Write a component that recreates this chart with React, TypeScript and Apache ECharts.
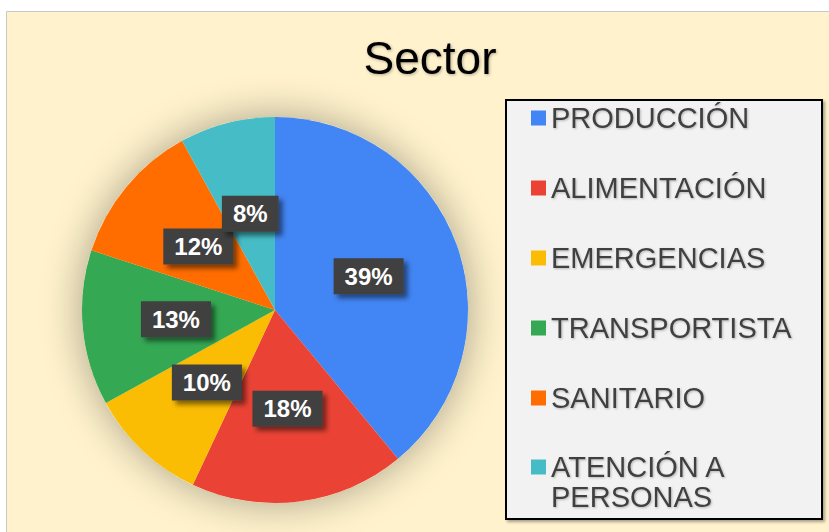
import React, { useEffect, useRef } from "react";
import * as echarts from "echarts";

const categories = ["PRODUCCIÓN", "ALIMENTACIÓN", "EMERGENCIAS", "TRANSPORTISTA", "SANITARIO", "ATENCIÓN A PERSONAS"];
const values = [39, 18, 10, 13, 12, 8];
const colors = ["#4285F4", "#EA4335", "#FBBC04", "#34A853", "#FF6D01", "#46BDC6"];

export default function App() {
  const ref = useRef<HTMLDivElement>(null);
  useEffect(() => {
    if (!ref.current) return;
    const chart = echarts.init(ref.current, null, { renderer: "svg" });
    const font = "Arial, 'Liberation Sans', sans-serif";
    const legendText = {
      fontFamily: font,
      fontSize: 29,
      lineHeight: 30,
      color: "#404040",
      textShadowColor: "rgba(0,0,0,0.25)",
      textShadowBlur: 2,
      textShadowOffsetX: 1,
      textShadowOffsetY: 1,
    };
    const total = values.reduce((a, b) => a + b, 0);
    chart.setOption({
      animation: false,
      title: {
        text: "Sector",
        left: 425,
        textAlign: "center",
        top: 30,
        textStyle: {
          fontFamily: font,
          fontSize: 46,
          fontWeight: "normal",
          color: "#000",
          textShadowColor: "rgba(0,0,0,0.3)",
          textShadowBlur: 3,
          textShadowOffsetX: 1,
          textShadowOffsetY: 1,
        },
      },
      graphic: [
        {
          type: "rect",
          z: -10,
          silent: true,
          shape: { x: 6.5, y: 11.5, width: 840, height: 540 },
          style: { fill: "#FFF2CC", stroke: "#C8C8C8", lineWidth: 1 },
        },
        {
          type: "rect",
          z: -5,
          silent: true,
          shape: { x: 506, y: 100, width: 316, height: 419 },
          style: {
            fill: "#F2F2F2",
            stroke: "#000",
            lineWidth: 2,
            shadowColor: "rgba(0,0,0,0.35)",
            shadowBlur: 3,
            shadowOffsetX: 2,
            shadowOffsetY: 2,
          },
        },
      ],
      legend: [
        {
          orient: "vertical",
          left: 531,
          top: 103,
          itemWidth: 15,
          itemHeight: 15,
          itemGap: 40,
          icon: "rect",
          padding: 0,
          data: categories.slice(0, 5),
          textStyle: legendText,
        },
        {
          orient: "vertical",
          left: 531,
          top: 422,
          itemWidth: 15,
          itemHeight: 15,
          icon: "rect",
          padding: 0,
          data: [categories[5]],
          formatter: () => " \nATENCIÓN A\nPERSONAS",
          textStyle: legendText,
        },
      ],
      series: [
        {
          type: "pie",
          z: 1,
          silent: true,
          center: [275, 310],
          radius: 193,
          label: { show: false },
          labelLine: { show: false },
          data: [{ value: total, itemStyle: { color: "#FFF2CC" } }],
          itemStyle: { shadowBlur: 40, shadowColor: "rgba(0,0,0,0.35)" },
          emphasis: { disabled: true },
          tooltip: { show: false },
        },
        {
          type: "pie",
          z: 2,
          center: [275, 310],
          radius: 193,
          startAngle: 90,
          clockwise: true,
          avoidLabelOverlap: false,
          minShowLabelAngle: 0,
          data: categories.map((c, i) => ({ name: c, value: values[i], itemStyle: { color: colors[i] } })),
          label: {
            show: true,
            position: "inside",
            formatter: "{d}%",
            fontFamily: font,
            fontSize: 24,
            fontWeight: "bold",
            color: "#fff",
            backgroundColor: "#404040",
            padding: [7, 11, 5, 11],
            shadowColor: "rgba(0,0,0,0.5)",
            shadowBlur: 5,
            shadowOffsetX: 4,
            shadowOffsetY: 4,
          },
          labelLayout: { hideOverlap: false },
          labelLine: { show: false },
          emphasis: { disabled: true },
        },
      ],
    });
    return () => chart.dispose();
  }, []);
  return (
    <div
      ref={ref}
      style={{ position: "fixed", left: 0, top: 0, width: 829, height: 532, background: "#fff" }}
    />
  );
}
